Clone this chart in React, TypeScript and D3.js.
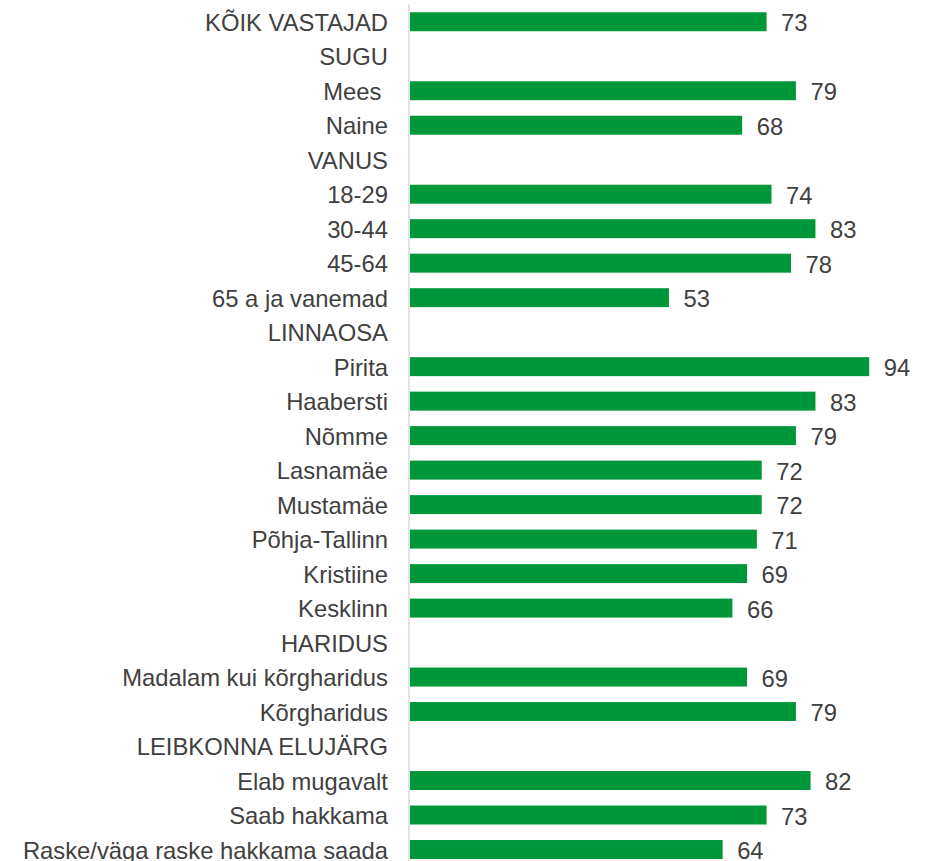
import React from "react";
import * as d3 from "d3";

const categories: string[] = [
  "KÕIK VASTAJAD",
  "SUGU",
  "Mees ",
  "Naine",
  "VANUS",
  "18-29",
  "30-44",
  "45-64",
  "65 a ja vanemad",
  "LINNAOSA",
  "Pirita",
  "Haabersti",
  "Nõmme",
  "Lasnamäe",
  "Mustamäe",
  "Põhja-Tallinn",
  "Kristiine",
  "Kesklinn",
  "HARIDUS",
  "Madalam kui kõrgharidus",
  "Kõrgharidus",
  "LEIBKONNA ELUJÄRG",
  "Elab mugavalt",
  "Saab hakkama",
  "Raske/väga raske hakkama saada",
];

const values: (number | null)[] = [
  73, null, 79, 68, null, 74, 83, 78, 53, null, 94, 83, 79, 72, 72, 71, 69, 66,
  null, 69, 79, null, 82, 73, 64,
];

const W = 926;
const H = 861;
const FONT = "'Liberation Sans', Arial, sans-serif";
const FS = 23.8;

export default function App() {
  const x = d3.scaleLinear().domain([0, 100]).range([410, 898.5]);
  const y = d3
    .scaleBand<string>()
    .domain(categories.map((c, i) => i + ""))
    .range([4.5, 866.75])
    .paddingInner(0.45)
    .paddingOuter(0.225);
  const bw = y.bandwidth();

  return (
    <svg
      width={W}
      height={H}
      style={{ position: "absolute", left: 0, top: 0, display: "block", background: "#fff" }}
      fontFamily={FONT}
    >
      <line x1={409} x2={409} y1={y.range()[0]} y2={H} stroke="#d9d9d9" strokeWidth={1.5} />
      {categories.map((c, i) => {
        const yc = (y(i + "") as number) + bw / 2;
        const v = values[i];
        return (
          <g key={i}>
            <text
              x={388}
              y={yc + 9}
              textAnchor="end"
              fontSize={FS}
              fill="#404040"
              style={{ whiteSpace: "pre" }}
            >
              {c}
            </text>
            {v !== null && (
              <>
                <rect
                  x={x(0)}
                  y={y(i + "")}
                  width={x(v) - x(0)}
                  height={bw}
                  fill="#00963a"
                />
                <text x={x(v) + 14.5} y={yc + 9.5} fontSize={FS} fill="#404040">
                  {v}
                </text>
              </>
            )}
          </g>
        );
      })}
    </svg>
  );
}
